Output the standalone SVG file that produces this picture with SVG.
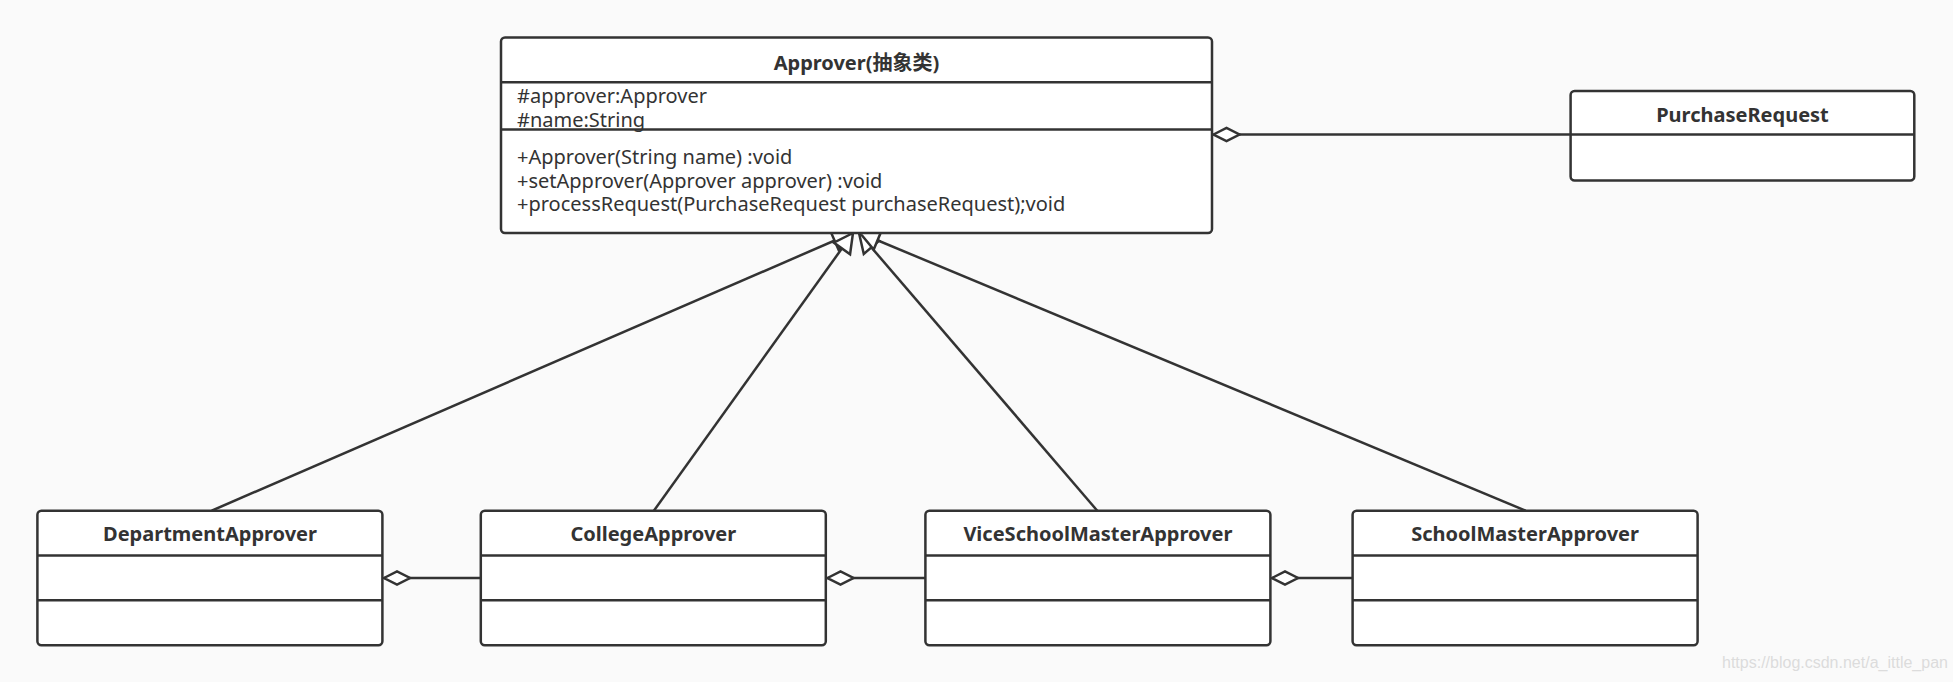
<svg xmlns="http://www.w3.org/2000/svg" width="1953" height="682" viewBox="0 0 1953 682">
<style>
.box{fill:#ffffff;stroke:#333333;stroke-width:2.5}
.div{stroke:#333333;stroke-width:2.5}
.t{font-family:"Noto Sans","Noto Sans CJK SC",sans-serif;font-size:20px;fill:#333333}
.b{font-weight:bold;text-anchor:middle}
.ln{stroke:#333333;stroke-width:2.5;fill:none}
.wm{font-family:"Liberation Sans",Arial,sans-serif;font-size:16px;fill:#dcdcdc}
</style>
<defs>
<marker id="tri" markerUnits="userSpaceOnUse" markerWidth="24" markerHeight="24" viewBox="-1 -12 22 24" refX="19" refY="0" orient="auto">
<path d="M19,0 L0,-10 L0,10 Z" fill="#ffffff" stroke="#333333" stroke-width="2.5" stroke-linejoin="miter"/>
</marker>
<marker id="dia" markerUnits="userSpaceOnUse" markerWidth="32" markerHeight="18" viewBox="-2 -9 30 18" refX="0" refY="0" orient="auto">
<path d="M0,0 L13,-6.5 L26,0 L13,6.5 Z" fill="#ffffff" stroke="#333333" stroke-width="2.5"/>
</marker>
</defs>
<rect width="1953" height="682" fill="#fafafa"/>

<g id="connectors">
<line class="ln" x1="211.7" y1="510.7" x2="852" y2="233" marker-end="url(#tri)"/>
<line class="ln" x1="653.9" y1="510.7" x2="853" y2="233" marker-end="url(#tri)"/>
<line class="ln" x1="1097.3" y1="510.7" x2="859" y2="233" marker-end="url(#tri)"/>
<line class="ln" x1="1525.7" y1="510.7" x2="860" y2="233" marker-end="url(#tri)"/>
<line class="ln" x1="1213.5" y1="134.5" x2="1570.6" y2="134.5" marker-start="url(#dia)"/>
<line class="ln" x1="384" y1="578" x2="480.8" y2="578" marker-start="url(#dia)"/>
<line class="ln" x1="827.5" y1="578" x2="925.4" y2="578" marker-start="url(#dia)"/>
<line class="ln" x1="1272" y1="578" x2="1352.6" y2="578" marker-start="url(#dia)"/>
</g>

<g id="Approver">
<rect class="box" x="501" y="37.5" width="711" height="195.5" rx="4"/>
<line class="div" x1="501" y1="82.2" x2="1212" y2="82.2"/>
<line class="div" x1="501" y1="129.5" x2="1212" y2="129.5"/>
<text class="t b" x="856.5" y="70">Approver(抽象类)</text>
<text class="t" x="517" y="103">#approver:Approver</text>
<text class="t" x="517" y="127">#name:String</text>
<text class="t" x="517" y="164">+Approver(String name) :void</text>
<text class="t" x="517" y="187.5">+setApprover(Approver approver) :void</text>
<text class="t" x="517" y="211">+processRequest(PurchaseRequest purchaseRequest);void</text>
</g>

<g id="PurchaseRequest">
<rect class="box" x="1570.6" y="91" width="343.7" height="89.6" rx="4"/>
<line class="div" x1="1570.6" y1="134.5" x2="1914.3" y2="134.5"/>
<text class="t b" x="1742.5" y="122">PurchaseRequest</text>
</g>

<g id="DepartmentApprover">
<rect class="box" x="37.4" y="510.7" width="345" height="134.5" rx="4"/>
<line class="div" x1="37.4" y1="555.5" x2="382.4" y2="555.5"/>
<line class="div" x1="37.4" y1="600.3" x2="382.4" y2="600.3"/>
<text class="t b" x="210" y="541">DepartmentApprover</text>
</g>

<g id="CollegeApprover">
<rect class="box" x="480.8" y="510.7" width="345" height="134.5" rx="4"/>
<line class="div" x1="480.8" y1="555.5" x2="825.8" y2="555.5"/>
<line class="div" x1="480.8" y1="600.3" x2="825.8" y2="600.3"/>
<text class="t b" x="653.3" y="541">CollegeApprover</text>
</g>

<g id="ViceSchoolMasterApprover">
<rect class="box" x="925.4" y="510.7" width="345" height="134.5" rx="4"/>
<line class="div" x1="925.4" y1="555.5" x2="1270.4" y2="555.5"/>
<line class="div" x1="925.4" y1="600.3" x2="1270.4" y2="600.3"/>
<text class="t b" x="1097.9" y="541">ViceSchoolMasterApprover</text>
</g>

<g id="SchoolMasterApprover">
<rect class="box" x="1352.6" y="510.7" width="345" height="134.5" rx="4"/>
<line class="div" x1="1352.6" y1="555.5" x2="1697.6" y2="555.5"/>
<line class="div" x1="1352.6" y1="600.3" x2="1697.6" y2="600.3"/>
<text class="t b" x="1525.1" y="541">SchoolMasterApprover</text>
</g>

<text class="wm" x="1722" y="668">https://blog.csdn.net/a_ittle_pan</text>
</svg>
